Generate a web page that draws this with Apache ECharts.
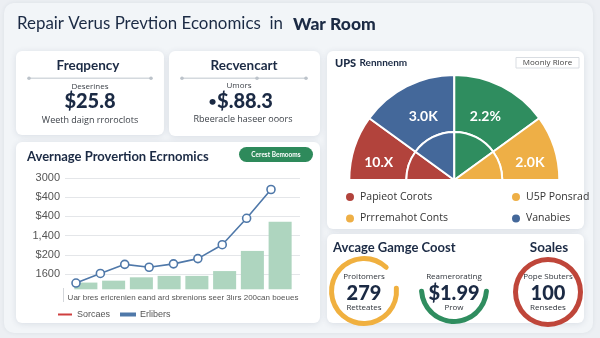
<!DOCTYPE html>
<html>
<head>
<meta charset="utf-8">
<script src="https://cdn.jsdelivr.net/npm/echarts@6/dist/echarts.min.js"></script>
<style>
  html, body { margin: 0; padding: 0; background: #eceff3; }
  #chart { width: 600px; height: 338px; }
</style>
</head>
<body>
<div id="chart"></div>
<script>
// KPI cards
const kpiTitles = ['Freqpency', 'Recvencart'];
const kpiCaptions = ['Deserines', 'Umors'];
const kpiValues = ['$25.8', '$.88.3'];
const kpiNotes = ['Weeth daign rroroclots', 'Rbeeracle haseer ooors'];

// trend panel
const barCategories = ['P1', 'P2', 'P3', 'P4', 'P5', 'P6', 'P7', 'P8'];
const barValues = [70, 90, 125, 140, 140, 190, 400, 705];
const lineCategories = ['S1', 'S2', 'S3', 'S4', 'S5', 'S6', 'S7', 'S8', 'S9'];
const lineValues = [65, 165, 260, 230, 265, 320, 465, 740, 1040];
const yTickValues = [160, 360, 560, 760, 960, 1160];
const yTickLabels = ['1600', '$200', '1,400', '$400', '$400', '3000'];
const trendSeriesNames = ['Sorcaes', 'Erlibers'];

// half donut
const sliceNames = ['Papieot Corots', 'Vanabies', 'Ponsrad Share', 'U5P Ponsrad'];
const innerNames = ['Papieot Corots', 'Vanabies', 'Ponsrad Share', 'Prrremahot Conts'];
const sliceValues = [2.0, 3.0, 3.0, 2.0];
const sliceLabels = ['10.X', '3.0K', '2.2%', '2.0K'];

// ring gauges
const ringTops = ['Proitomers', 'Reamerorating', 'Pope Sbuters'];
const ringValues = [279, 1.99, 100];
const ringPrefixes = ['', '$', ''];
const ringBottoms = ['Retteates', 'Prow', 'Rensedes'];

const NAVY = '#1b2a44';
const TEXT = '#3a3f46';
const SLICE_COLORS = ['#b2433c', '#44689a', '#2f8d5f', '#eeaf46'];
const RING_COLORS = ['#f0b03f', '#2f8d5f', '#bf463a'];
const HEAD = 'Lato, "Noto Sans", sans-serif';
const BODY = '"Open Sans", "Noto Sans", sans-serif';
const AXISFONT = '"Liberation Sans", Arial, sans-serif';

function card(x, y, w, h) {
  return {
    type: 'rect', z: 0,
    shape: { x: x, y: y, width: w, height: h, r: 6 },
    style: { fill: '#ffffff', shadowBlur: 6, shadowOffsetY: 1, shadowColor: 'rgba(40,60,90,0.12)' }
  };
}
function text(x, y, str, font, fill, align) {
  return {
    type: 'text', z: 50, x: x, y: y,
    style: { text: str, font: font, fill: fill, align: align || 'center', verticalAlign: 'middle' }
  };
}
function dot(cx, cy) {
  return { type: 'circle', z: 40, shape: { cx: cx, cy: cy, r: 1.8 }, style: { fill: '#bcc3ca' } };
}
function rule(x1, x2, y) {
  return { type: 'line', z: 30, shape: { x1: x1, y1: y, x2: x2, y2: y }, style: { stroke: '#d4d9de', lineWidth: 1.5 } };
}

const graphics = [
  // outer panel
  { type: 'rect', z: -1, shape: { x: 4, y: 3, width: 589, height: 330, r: 10 },
    style: { fill: '#f2f5f8', shadowBlur: 4, shadowColor: 'rgba(40,60,90,0.08)' } },
  text(17, 24, 'Repair Verus Prevtion Economics  in', '400 16.9px ' + HEAD, NAVY, 'left'),
  text(293, 24, 'War Room', '900 17.5px ' + HEAD, NAVY, 'left'),

  // KPI cards
  card(16, 51, 148, 84),
  card(169, 51, 151, 85),
  text(88, 66, kpiTitles[0], '700 13.5px ' + HEAD, NAVY),
  rule(29, 151, 78.3), dot(29, 78.3), dot(151, 78.3),
  text(90, 87, kpiCaptions[0], '400 8px ' + BODY, TEXT),
  text(90, 102, kpiValues[0], '900 20px ' + HEAD, NAVY),
  text(90, 120, kpiNotes[0], '400 9px ' + BODY, TEXT),
  text(244, 66, kpiTitles[1], '700 13.5px ' + HEAD, NAVY),
  rule(182, 306, 78.3), dot(182, 78.3), dot(257, 78.3), dot(306, 78.3),
  text(239, 86, kpiCaptions[1], '400 8px ' + BODY, TEXT),
  text(212.5, 101, '\u2022', '700 14px ' + HEAD, NAVY),
  text(245, 102, kpiValues[1], '900 20px ' + HEAD, NAVY),
  text(243, 119.5, kpiNotes[1], '400 9px ' + BODY, TEXT),

  // trend card
  card(16, 142, 304, 181),
  text(27, 157, 'Avernage Provertion Ecrnomics', '700 13px ' + HEAD, NAVY, 'left'),
  { type: 'rect', z: 30, shape: { x: 239, y: 147, width: 74, height: 15, r: 7.5 }, style: { fill: '#2e8a5b' } },
  text(276, 154.5, 'Cerest Bemooms', '700 6.5px ' + HEAD, '#ffffff'),
  { type: 'line', z: 30, shape: { x1: 63.5, y1: 288, x2: 63.5, y2: 302 }, style: { stroke: '#d4d7db', lineWidth: 1 } },

  // share card
  card(327, 51, 257, 178),
  {
    type: 'text', z: 50, x: 335, y: 63,
    style: {
      text: '{a|UPS} {b|Rennnenm}', verticalAlign: 'middle',
      rich: {
        a: { font: '900 11px ' + HEAD, fill: NAVY },
        b: { font: '700 10px ' + HEAD, fill: NAVY }
      }
    }
  },
  { type: 'rect', z: 30, shape: { x: 516, y: 57.5, width: 63, height: 10.5 },
    style: { fill: '#ffffff', stroke: '#d9dde2', lineWidth: 1 } },
  text(547.5, 63, 'Mooniy Rlore', '400 8px ' + BODY, '#444'),

  // cost card
  card(327, 234, 257, 89),
  text(333, 248, 'Avcage Gamge Coost', '700 13px ' + HEAD, NAVY, 'left'),
  text(549, 248, 'Soales', '700 13.5px ' + HEAD, NAVY)
];

function ringSeries(i, center, startAngle, endAngle, offsetY) {
  return {
    type: 'gauge', z: 5,
    center: center, radius: 35,
    startAngle: startAngle, endAngle: endAngle,
    min: 0, max: ringValues[i] * 1.0001,
    pointer: { show: false },
    progress: { show: false },
    axisLine: { roundCap: true, lineStyle: { width: 5, color: [[1, RING_COLORS[i]]] } },
    axisTick: { show: false }, splitLine: { show: false }, axisLabel: { show: false },
    title: { show: false },
    detail: {
      offsetCenter: [0, offsetY],
      formatter: function (v) {
        return '{t|' + ringTops[i] + '}\n{v|' + ringPrefixes[i] + v + '}\n{s|' + ringBottoms[i] + '}';
      },
      rich: {
        t: { fontSize: 8, fontWeight: 500, fontFamily: BODY, color: '#2f343b', lineHeight: 16 },
        v: { fontSize: 20, fontWeight: 900, fontFamily: HEAD, color: NAVY, lineHeight: 17 },
        s: { fontSize: 8, fontWeight: 500, fontFamily: BODY, color: '#2f343b', lineHeight: 12 }
      }
    },
    data: [{ value: ringValues[i], name: ringTops[i] }]
  };
}

const axisTop = 178, axisHeight = 111.3, axisMax = 1160;
function hiddenY(idx) {
  return { type: 'value', gridIndex: idx, min: 0, max: axisMax, show: false };
}

const option = {
  animation: false,
  graphic: { elements: graphics },
  grid: [
    { left: 65, width: 235, top: axisTop, height: axisHeight },
    { left: 72, width: 222, top: axisTop, height: axisHeight },
    { left: 76, width: 195, top: axisTop, height: axisHeight }
  ],
  xAxis: [
    { type: 'value', gridIndex: 0, min: 0, max: 1, show: false },
    {
      type: 'category', gridIndex: 1, data: barCategories, boundaryGap: true,
      axisLine: { show: false }, axisTick: { show: false }, axisLabel: { show: false },
      name: 'Uar bres ericrenien eand ard sbrenions seer 3l\u0131rs 200can boeues',
      nameLocation: 'middle', nameGap: 4,
      nameTextStyle: { fontSize: 8, color: '#555', fontFamily: AXISFONT, verticalAlign: 'top' }
    },
    { type: 'category', gridIndex: 2, data: lineCategories, boundaryGap: false, show: false }
  ],
  yAxis: [
    {
      type: 'value', gridIndex: 0, min: 0, max: axisMax,
      axisLine: { show: false },
      axisTick: { show: false, customValues: yTickValues },
      axisLabel: {
        customValues: yTickValues, margin: 5,
        color: '#555', fontSize: 11, fontFamily: AXISFONT,
        formatter: function (v) { return yTickLabels[yTickValues.indexOf(v)]; }
      },
      splitLine: { show: true, lineStyle: { color: '#e4e6e9', width: 1 } }
    },
    hiddenY(1),
    hiddenY(2)
  ],
  legend: [
    {
      left: 53, top: 305, itemWidth: 14, itemHeight: 2, itemGap: 10, icon: 'rect',
      textStyle: { fontSize: 9, color: '#555', fontFamily: AXISFONT },
      data: [
        { name: trendSeriesNames[0], itemStyle: { color: '#cf3f3f' } },
        { name: trendSeriesNames[1], itemStyle: { color: '#5a7aa6' } }
      ]
    },
    {
      left: 339, top: 186, orient: 'vertical', icon: 'circle', itemWidth: 10, itemHeight: 10, itemGap: 9.5,
      textStyle: { fontSize: 10.5, color: '#333', fontFamily: BODY },
      data: ['Papieot Corots', 'Prrremahot Conts']
    },
    {
      left: 505, top: 186, orient: 'vertical', icon: 'circle', itemWidth: 10, itemHeight: 10, itemGap: 9.5,
      textStyle: { fontSize: 10.5, color: '#333', fontFamily: BODY },
      data: ['U5P Ponsrad', 'Vanabies']
    }
  ],
  series: [
    {
      name: 'Bars', type: 'bar', xAxisIndex: 1, yAxisIndex: 1,
      barCategoryGap: '17%', data: barValues,
      itemStyle: { color: '#aed5bf' }
    },
    {
      name: trendSeriesNames[0], type: 'line', xAxisIndex: 2, yAxisIndex: 2,
      data: [], itemStyle: { color: '#cf3f3f' }
    },
    {
      name: trendSeriesNames[1], type: 'line', xAxisIndex: 2, yAxisIndex: 2,
      data: lineValues, z: 4,
      symbol: 'circle', symbolSize: 8, showAllSymbol: true,
      lineStyle: { color: '#4f78a9', width: 1.6 },
      itemStyle: { color: '#ffffff', borderColor: '#4f78a9', borderWidth: 1.6 }
    },
    {
      name: 'Share', type: 'pie', center: [454.3, 180], radius: [48, 105],
      startAngle: 180, endAngle: 0, clockwise: true,
      itemStyle: { borderColor: '#ffffff', borderWidth: 2 },
      label: {
        show: true, position: 'inside', color: '#ffffff', fontSize: 14, fontWeight: 700, fontFamily: HEAD,
        formatter: function (p) { return sliceLabels[p.dataIndex]; }
      },
      // nudge the two upper labels slightly toward the middle line
      labelLayout: function (p) {
        const shift = [0, 5, -5, 0];
        return { dy: 7, dx: shift[p.dataIndex] };
      },
      labelLine: { show: false },
      data: sliceValues.map(function (v, i) {
        return { name: sliceNames[i], value: v, itemStyle: { color: SLICE_COLORS[i] } };
      })
    },
    {
      name: 'Share core', type: 'pie', center: [454.3, 180], radius: [0, 48],
      startAngle: 180, endAngle: 0, clockwise: true,
      itemStyle: { borderColor: '#ffffff', borderWidth: 2 },
      label: { show: false }, labelLine: { show: false },
      data: sliceValues.map(function (v, i) {
        return { name: innerNames[i], value: v, itemStyle: { color: SLICE_COLORS[i] } };
      })
    },
    ringSeries(0, [364, 291], 5, -313, 0.5),
    ringSeries(1, [454, 289], -4, -176, 2.5),
    ringSeries(2, [548, 292], 90, -270, -0.5)
  ]
};

const chart = echarts.init(document.getElementById('chart'), null, { renderer: 'canvas' });
chart.setOption(option);
</script>
</body>
</html>
